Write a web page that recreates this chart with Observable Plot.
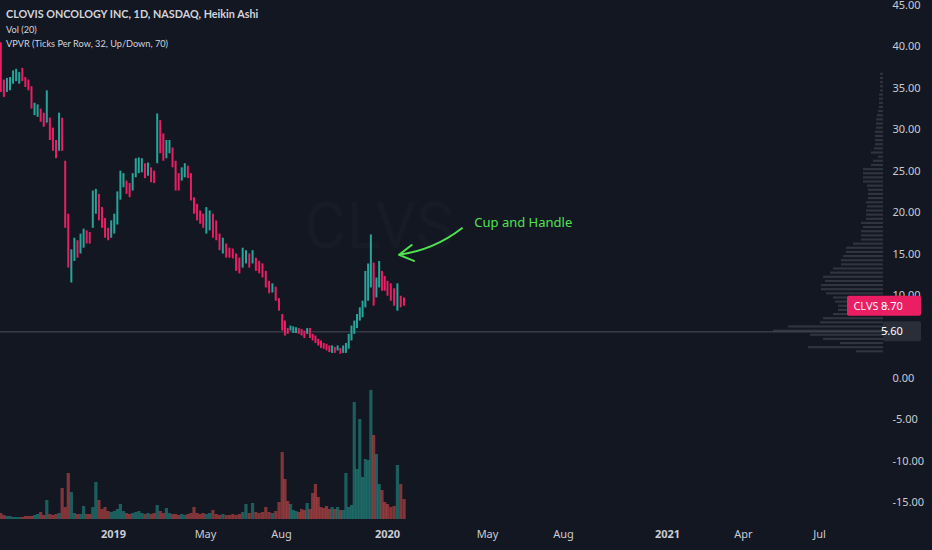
<!DOCTYPE html>
<html><head><meta charset="utf-8">
<script src="https://cdn.jsdelivr.net/npm/d3@7"></script>
<script src="https://cdn.jsdelivr.net/npm/@observablehq/plot@0.6"></script>
<style>
html,body{margin:0;padding:0;background:#131722;}
#chart{position:relative;width:932px;height:550px;background:#131722;overflow:hidden;font-family:"Noto Sans",sans-serif;}
#chart svg{position:absolute;left:0;top:0;}
.legend{position:absolute;left:6px;top:7px;color:#d1d4dc;font-family:Lato,"Noto Sans",sans-serif;font-size:9.2px;line-height:14.5px;white-space:nowrap;}
.legend b{font-weight:700;font-size:10.8px;}
</style></head><body><div id="chart"></div>
<script>
// ---- data ----
const startDate = "2018-08-07";   // first bar
const stepDays = 4;               // one bar every 4 calendar days
const highs = [40.5,36.0,36.2,36.3,37.1,37.3,36.9,37.4,36.3,36.0,35.2,33.2,33.0,32.5,32.0,34.7,31.4,30.2,28.7,32.0,
  31.4,26.2,19.8,15.5,16.9,16.6,17.4,18.0,17.8,17.6,22.6,22.8,22.2,20.6,19.3,18.1,19.0,19.8,22.5,25.0,
  24.7,23.8,23.5,24.7,26.5,26.6,26.5,25.9,26.0,25.4,25.0,31.9,31.1,29.5,28.7,28.7,27.8,26.2,24.7,25.4,
  25.9,25.6,24.7,21.8,21.0,20.2,19.8,20.6,20.2,19.8,19.0,17.4,16.9,16.2,15.7,15.6,15.0,14.5,15.7,15.4,
  15.0,15.4,14.5,14.1,13.8,12.9,11.7,11.4,11.0,9.6,7.7,6.9,6.0,6.3,6.2,6.1,6.0,5.9,5.7,6.0,
  6.0,5.3,5.1,4.7,4.5,4.2,4.1,3.9,3.9,3.7,3.9,3.6,3.9,4.2,5.3,6.3,6.9,7.7,8.5,9.3,
  12.9,13.8,17.3,13.9,12.1,14.1,12.9,12.3,11.7,11.4,10.8,11.4,9.9,9.7];
const lows = [34.5,33.9,34.5,34.7,35.5,35.8,35.5,35.8,35.1,34.7,32.5,31.7,31.5,30.9,30.3,30.8,28.7,27.4,26.5,27.4,
  27.4,18.1,13.3,11.5,14.1,14.5,15.0,15.7,16.2,16.2,18.1,19.8,19.0,18.1,16.9,16.6,16.9,17.4,18.5,21.5,
  23.0,22.2,21.8,22.6,24.2,24.7,24.8,24.1,24.4,23.6,23.5,25.9,27.1,26.2,26.5,27.1,25.4,22.6,22.6,23.8,
  24.2,24.1,21.4,19.8,19.0,18.6,18.1,17.4,17.8,16.9,16.6,15.4,15.0,14.5,14.5,14.4,12.9,12.6,13.3,13.8,
  13.3,13.8,12.9,12.6,12.1,10.9,10.2,10.3,9.3,8.1,5.7,5.1,5.3,5.7,5.4,5.4,5.3,5.1,4.8,5.3,
  4.8,4.5,4.2,3.9,3.6,3.5,3.3,3.1,3.0,3.0,3.3,2.9,3.0,3.0,3.5,4.5,5.3,6.0,6.9,7.3,
  8.5,9.3,10.9,8.7,9.7,10.9,10.5,10.5,9.9,9.3,8.7,8.1,8.5,8.7];
// Heikin Ashi candle direction per bar: u = up, d = down
const dirs = "dduuuuuddd" + "duuddudddu" + "ddduuduudd" + "uudddduuuu" + "udduuuudud" +
  "dudduudddu" + "udddddduud" + "dduddddduu" + "dudddddudd" + "ddduuudddu" +
  "ddddddddud" + "uduuuuuuuu" + "uuuduudddd" + "dudd";
const volumes = [0.6,0.4,0.3,0.3,0.2,0.2,0.2,0.2,0.3,0.3,0.3,0.4,0.5,0.7,0.4,1.9,0.5,0.4,0.5,0.6,
  3.1,1.2,4.6,2.7,0.6,0.5,0.5,1.3,0.5,0.5,1.2,3.7,1.9,1.0,1.2,0.8,0.7,0.8,1.0,1.5,
  0.8,0.6,0.5,0.6,0.7,0.8,0.6,0.5,0.6,0.5,0.6,1.4,0.8,0.6,1.1,0.6,0.5,0.5,0.4,0.5,
  0.4,0.5,0.6,1.2,0.6,0.5,0.6,0.5,0.6,0.9,0.5,0.4,0.5,0.4,0.4,0.5,0.4,0.5,0.7,1.5,
  0.6,1.6,0.7,0.6,0.7,1.2,0.7,0.6,0.8,1.7,6.7,4.0,1.8,1.5,0.9,0.8,0.7,1.0,0.9,1.6,
  1.0,2.6,3.5,2.2,1.2,1.1,1.3,1.0,1.2,1.0,1.2,0.9,0.9,4.6,1.2,1.4,11.7,5.0,10.0,4.2,
  6.0,5.9,12.9,8.4,6.5,3.5,2.9,1.7,1.5,1.2,1.3,5.4,3.5,2.0];
const lastClose = 8.70;
const hLinePrice = 5.60;

// volume profile (VPVR): row lower bound and volume
const rowSize = 0.5;
const profileLow = [3.0,3.5,4.0,4.5,5.0,5.5,6.0,6.5,7.0,7.5,8.0,8.5,9.0,9.5,10.0,10.5,11.0,11.5,12.0,12.5,
  13.0,13.5,14.0,14.5,15.0,15.5,16.0,16.5,17.0,17.5,18.0,18.5,19.0,19.5,20.0,20.5,21.0,21.5,22.0,22.5,
  23.0,23.5,24.0,24.5,25.0,25.5,26.0,26.5,27.0,27.5,28.0,28.5,29.0,29.5,30.0,30.5,31.0,31.5,32.0,32.5,
  33.0,33.5,34.0,34.5,35.0,35.5,36.0,36.5];
const profileVol = [27,75,43,60,73,110,95,63,60,50,45,45,48,50,57,62,62,58,60,53,
  50,42,42,40,37,37,30,22,22,22,20,22,17,17,17,16,17,15,15,15,
  16,20,20,20,20,12,10,5,12,9,8,8,8,8,7,7,7,6,5,4,
  4,4,4,3,3,3,3,3];

// axes (5.00 is hidden behind the 5.60 tag in the reference)
const yTicks = [-15,-10,-5,0,10,15,20,25,30,35,40,45];
const xTickDates = ["2019-01-01","2019-05-01","2019-08-01","2020-01-01","2020-05-01","2020-08-01","2021-01-01","2021-04-01","2021-07-01"];

// annotations
const annText = "Cup and Handle";
const annTextDate = "2020-04-15", annTextPrice = 18.8;
const arrowFrom = {date: "2020-03-31", price: 18.1};
const arrowTo = {date: "2020-01-15", price: 14.9};
const watermark = {text: "CLVS", date: "2019-12-20", price: 18.2};
const ticker = "CLVS";

// ---- build ----
const W = 932, H = 550;
const UP = "#26a69a", DOWN = "#e91e63", VUP = "#26a69a", VDOWN = "#ef5350", GREEN = "#4ee44e", TXT = "#c9ccd4";
const t0 = new Date(startDate + "T00:00:00Z");
const bars = highs.map((h, i) => ({
  date: d3.utcDay.offset(t0, i * stepDays), high: h, low: lows[i],
  dir: dirs[i], vol: volumes[i]
}));
const rows = profileLow.map((p, i) => ({p, v: profileVol[i]}));
const tickDates = xTickDates.map(s => new Date(s + "T00:00:00Z"));
const xOpt = {type: "utc", domain: tickDates, range: [113,205,281,387,487,563,667,743,819]};
const yOpt = {domain: [-15, 45], range: [502, 5]};
const font = "'Noto Sans', sans-serif";
const colorOf = d => d.dir === "u" ? UP : DOWN;
const vColorOf = d => d.dir === "u" ? VUP : VDOWN;

const volPlot = Plot.plot({
  width: W, height: H, margin: 0,
  x: {...xOpt, axis: null},
  y: {domain: [0, 13], range: [519, 389], axis: null},
  color: {type: "identity"},
  style: {background: "#131722"},
  marks: [
    Plot.ruleX(bars, {x: "date", y1: 0, y2: "vol", stroke: vColorOf, strokeOpacity: 0.5, strokeWidth: 3.2})
  ]
});

const profPlot = Plot.plot({
  width: W, height: H, margin: 0,
  x: {domain: [0, 110], range: [883, 773], axis: null},
  y: {...yOpt, axis: null},
  style: {background: "transparent"},
  marks: [
    Plot.rect(rows, {x1: 0, x2: "v", y1: "p", y2: d => d.p + rowSize, fill: "#30343f", insetTop: 1.5, insetBottom: 0.5})
  ]
});

const isYear = d => d.getUTCMonth() === 0;
const main = Plot.plot({
  width: W, height: H,
  marginLeft: 0, marginRight: 46, marginTop: 0, marginBottom: 24,
  x: xOpt, y: yOpt,
  color: {type: "identity"},
  style: {background: "transparent", color: TXT, fontFamily: font, fontSize: "11px", overflow: "visible"},
  marks: [
    Plot.text([watermark], {x: d => new Date(d.date + "T00:00:00Z"), y: "price", text: "text", fontSize: 64, fontFamily: "Roboto, sans-serif", fill: "#ffffff", fillOpacity: 0.018}),
    Plot.ruleY([hLinePrice], {stroke: "#4a4e59", strokeWidth: 1}),
    Plot.ruleX(bars, {x: "date", y1: "low", y2: "high", stroke: colorOf, strokeWidth: 2}),
    Plot.axisY({anchor: "right", ticks: yTicks, tickFormat: d => d.toFixed(2), tickSize: 0, tickPadding: 6, fill: TXT, fontSize: 11}),
    Plot.axisX({ticks: tickDates.filter(d => !isYear(d)), tickFormat: d3.utcFormat("%b"), tickSize: 0, tickPadding: 4, fill: TXT, fontSize: 11}),
    Plot.axisX({ticks: tickDates.filter(isYear), tickFormat: d3.utcFormat("%Y"), tickSize: 0, tickPadding: 4, fill: TXT, fontSize: 11, fontWeight: "bold"}),
    Plot.arrow([{}], {x1: () => new Date(arrowFrom.date + "T00:00:00Z"), y1: () => arrowFrom.price,
      x2: () => new Date(arrowTo.date + "T00:00:00Z"), y2: () => arrowTo.price,
      bend: 15, stroke: GREEN, strokeWidth: 2, headLength: 12}),
    Plot.text([annText], {x: () => new Date(annTextDate + "T00:00:00Z"), y: () => annTextPrice, text: d => d, textAnchor: "start", fill: GREEN, fontSize: 13})
  ]
});

// price tags drawn with the plot's own y scale
const ys = main.scale("y");
const svg = d3.select(main);
function priceTag(price, bg, left, label) {
  const y = ys.apply(price);
  const g = svg.append("g").attr("font-family", font).attr("font-size", 11);
  g.append("rect").attr("x", left).attr("y", y - 10).attr("width", 921 - left).attr("height", 20).attr("rx", 2).attr("fill", bg);
  if (label) g.append("text").attr("x", 866).attr("y", y).attr("dy", "0.35em").attr("text-anchor", "middle").attr("fill", "#f3f3f3").text(label);
  g.append("line").attr("x1", 885).attr("x2", 888).attr("y1", y).attr("y2", y).attr("stroke", "#d1d4dc");
  g.append("text").attr("x", 892).attr("y", y).attr("dy", "0.35em").attr("fill", "#ffffff").text(price.toFixed(2));
}
priceTag(hLinePrice, "#2a2e39", 883, null);
priceTag(lastClose, "#e91e63", 847, ticker);

const chart = document.getElementById("chart");
chart.append(volPlot, profPlot, main);
const legend = document.createElement("div");
legend.className = "legend";
legend.innerHTML = "<b>CLOVIS ONCOLOGY INC, 1D, NASDAQ, Heikin Ashi</b><br>Vol (20)<br>VPVR (Ticks Per Row, 32, Up/Down, 70)";
chart.append(legend);
</script></body></html>
